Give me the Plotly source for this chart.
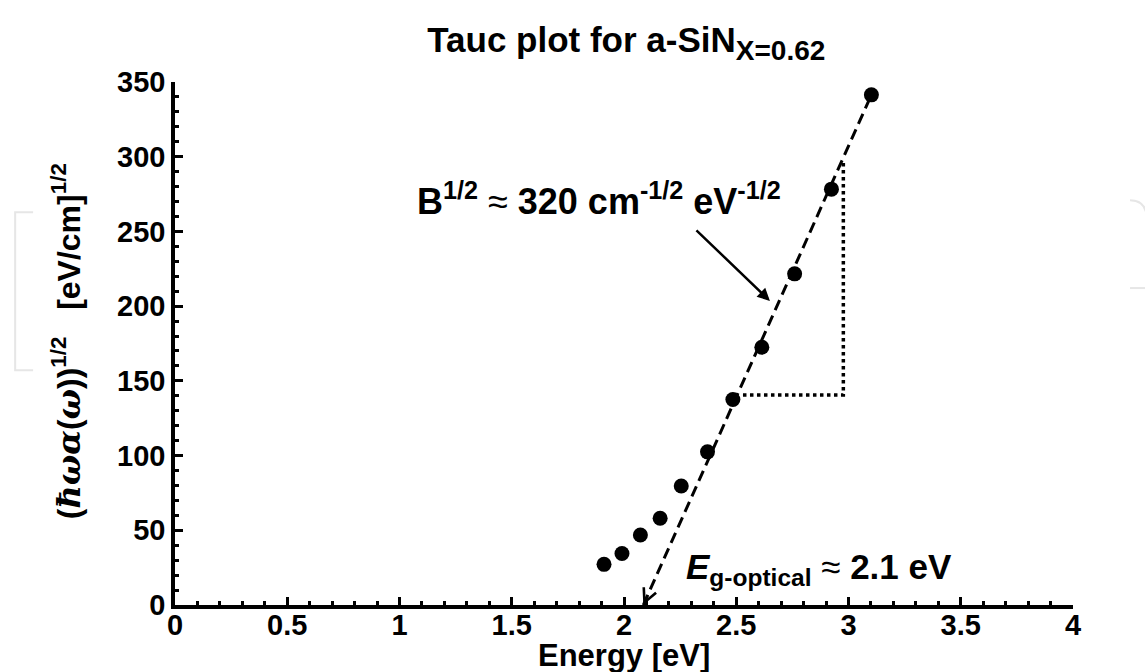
import plotly.graph_objects as go

# Data
energy = [1.911, 1.991, 2.073, 2.161, 2.255, 2.372, 2.485, 2.614, 2.760, 2.924, 3.102]
tauc = [27.2, 34.5, 46.8, 58.1, 79.6, 102.5, 137.5, 172.5, 221.6, 278.3, 341.4]

fit_x = [2.086, 3.102]
fit_y = [0.0, 341.4]

tri_x = [2.53, 2.977, 2.977]
tri_y = [140.5, 140.5, 297.0]

FONT = "Liberation Sans, Arial, Helvetica, sans-serif"

fig = go.Figure()

fig.add_trace(go.Scatter(x=fit_x, y=fit_y, mode="lines",
                         line=dict(color="black", width=3, dash="11px,6px"),
                         hoverinfo="skip", showlegend=False))
fig.add_trace(go.Scatter(x=tri_x, y=tri_y, mode="lines",
                         line=dict(color="black", width=3.5, dash="3.5px,3.5px"),
                         hoverinfo="skip", showlegend=False))
fig.add_trace(go.Scatter(x=energy, y=tauc, mode="markers",
                         marker=dict(color="black", size=15),
                         showlegend=False))

# arrowhead at the end of the dashed fit line
fig.add_annotation(x=fit_x[0], y=fit_y[0], ax=fit_x[0] + 0.022, ay=fit_y[0] + 7.5,
                   xref="x", yref="y", axref="x", ayref="y", text="",
                   showarrow=True, arrowhead=5, arrowsize=1.2, arrowwidth=2.2,
                   arrowcolor="black", standoff=0)

# arrow pointing to slope
fig.add_annotation(x=2.650, y=203.5, ax=2.316, ay=251.7,
                   xref="x", yref="y", axref="x", ayref="y", text="",
                   showarrow=True, arrowhead=2, arrowsize=1.0, arrowwidth=2.5,
                   arrowcolor="black", standoff=0)

fig.add_annotation(x=1.069, y=272, xref="x", yref="y", xanchor="left", yanchor="middle",
                   text="B<sup>1/2</sup> <span style='font-weight:normal'>≈</span> 320 cm<sup>-1/2</sup> eV<sup>-1/2</sup>",
                   showarrow=False, font=dict(family=FONT, size=36, color="black", weight="bold"))

fig.add_annotation(x=2.267, y=24, xref="x", yref="y", xanchor="left", yanchor="middle",
                   text="<i>E</i><sub>g-optical</sub> <span style='font-weight:normal'>≈</span> 2.1 eV",
                   showarrow=False, font=dict(family=FONT, size=35, color="black", weight="bold"))

# axis titles
fig.add_annotation(x=0.5, y=-0.097, xref="paper", yref="paper", xanchor="center", yanchor="middle",
                   text="Energy [eV]", showarrow=False,
                   font=dict(family=FONT, size=31, color="black", weight="bold"))
fig.add_annotation(x=-0.12, y=0.505, xref="paper", yref="paper", xanchor="center", yanchor="middle",
                   textangle=-90,
                   text="(<span style='font-family:DejaVu Serif'><i>ħωα</i></span>(<span style='font-family:DejaVu Serif'><i>ω</i></span>))<sup>1/2</sup>   [eV/cm]<sup>1/2</sup>",
                   showarrow=False,
                   font=dict(family=FONT, size=32, color="black", weight="bold"))

# faint watermark marks
fig.add_shape(type="path", xref="paper", yref="paper",
              path="M -0.158,0.751 L -0.178,0.751 L -0.178,0.449 L -0.158,0.449",
              line=dict(color="#e6e6e6", width=2))
fig.add_shape(type="path", xref="paper", yref="paper",
              path="M 1.0635,0.774 Q 1.080,0.774 1.082,0.745",
              line=dict(color="#e6e6e6", width=2))
fig.add_shape(type="line", xref="paper", yref="paper",
              x0=1.0635, y0=0.606, x1=1.085, y1=0.606,
              line=dict(color="#e6e6e6", width=2))

tickfont = dict(family=FONT, size=29, color="black", weight="bold")

fig.update_layout(
    width=1145, height=672,
    margin=dict(l=175, r=72, t=82, b=67),
    paper_bgcolor="white", plot_bgcolor="white",
    title=dict(text="Tauc plot for a-SiN<sub><span style='font-size:28px'>X=0.62</span></sub>",
               x=0.547, xanchor="center",
               y=1 - 40 / 672, yanchor="middle", yref="container",
               font=dict(family=FONT, size=35, color="black", weight="bold")),
    font=dict(family=FONT, color="black"),
    xaxis=dict(range=[0, 4], dtick=0.5, tick0=0, showgrid=False, zeroline=False,
               showline=True, linecolor="black", linewidth=3.5,
               ticks="inside", ticklen=8, tickwidth=3, tickcolor="black",
               showticklabels=False,
               minor=dict(dtick=0.1, ticks="inside", ticklen=4, tickwidth=2.5, tickcolor="black")),
    # overlay axis carrying the tick labels, placed closer to the axis line
    xaxis2=dict(range=[0, 4], dtick=0.5, tick0=0, matches="x", overlaying="x",
                anchor="free", position=0.0, side="bottom",
                showgrid=False, zeroline=False, showline=False, ticks="",
                tickfont=tickfont),
    yaxis=dict(range=[0, 350], dtick=50, tick0=0, showgrid=False, zeroline=False,
               showline=True, linecolor="black", linewidth=3.5,
               ticks="inside", ticklen=8, tickwidth=3, tickcolor="black",
               minor=dict(dtick=10, ticks="inside", ticklen=4, tickwidth=2.5, tickcolor="black"),
               tickfont=tickfont),
)

# invisible carrier so that xaxis2 is drawn
fig.add_trace(go.Scatter(x=[0, 4], y=[0, 0], xaxis="x2", yaxis="y", mode="markers",
                         marker=dict(opacity=0), hoverinfo="skip", showlegend=False))

fig.write_html("out.html")
